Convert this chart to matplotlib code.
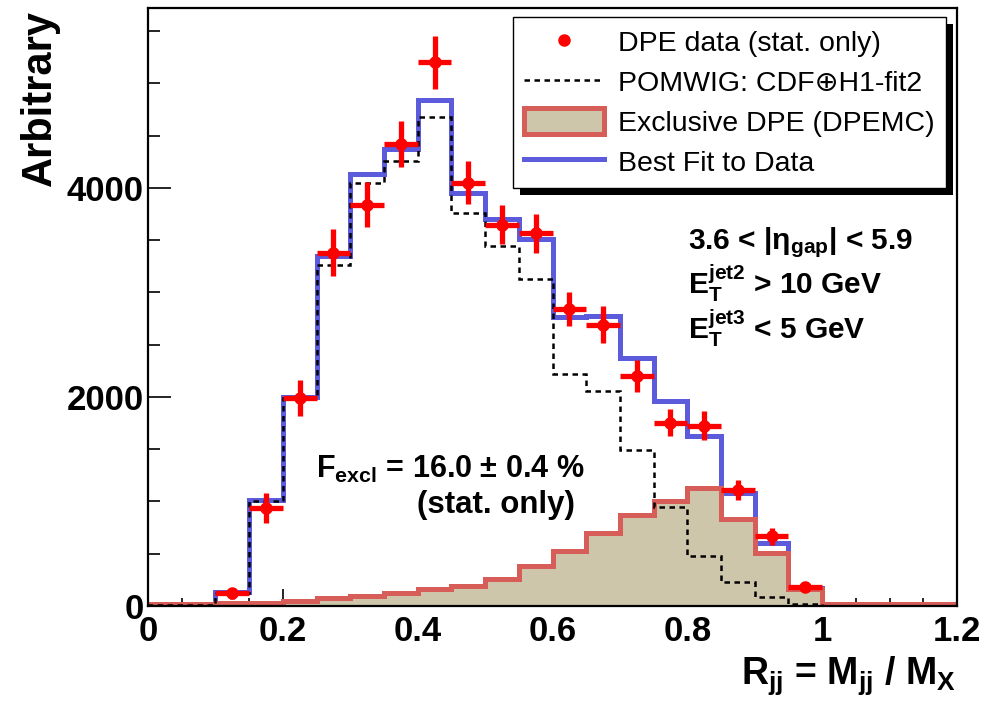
import numpy as np
import matplotlib
matplotlib.use("Agg")
import matplotlib.pyplot as plt
from matplotlib.lines import Line2D
from matplotlib.patches import Patch, Rectangle
from matplotlib.transforms import IdentityTransform
from matplotlib.ticker import FixedLocator, MultipleLocator

plt.rcParams['font.family'] = ['Liberation Sans', 'DejaVu Sans']
plt.rcParams['font.weight'] = 'bold'
plt.rcParams['mathtext.fontset'] = 'custom'
plt.rcParams['mathtext.rm'] = 'Liberation Sans:bold'
plt.rcParams['mathtext.it'] = 'Liberation Sans:bold'
plt.rcParams['mathtext.bf'] = 'Liberation Sans:bold'
plt.rcParams['mathtext.default'] = 'rm'

# --- data (24 bins of width 0.05 in R_jj) ---
bin_edges = np.round(np.arange(0, 1.2001, 0.05), 2)

best_fit = [20, 20, 130, 1010, 2000, 3350, 4130, 4370, 4840, 3955, 3705, 3510,
            2760, 2770, 2375, 1965, 1625, 1080, 605, 170, 20, 20, 20, 20]
pomwig = [5, 5, 120, 1000, 1990, 3265, 4050, 4260, 4675, 3760, 3445, 3130,
          2215, 2055, 1490, 950, 480, 230, 90, 20, 0, 0, 0, 0]
excl_dpe = [15, 15, 30, 30, 45, 75, 95, 120, 165, 195, 260, 380,
            525, 695, 870, 1000, 1130, 830, 505, 160, 20, 20, 20, 20]

data_x = [0.125, 0.175, 0.225, 0.275, 0.325, 0.375, 0.425, 0.475, 0.525,
          0.575, 0.625, 0.675, 0.725, 0.775, 0.825, 0.875, 0.925, 0.975]
data_y = [121, 940, 1990, 3380, 3840, 4420, 5200, 4050, 3645,
          3565, 2840, 2690, 2200, 1755, 1725, 1110, 665, 185]
data_err = [55, 145, 175, 222, 215, 223, 255, 207, 187,
            188, 163, 178, 150, 128, 139, 99, 80, 40]

legend_labels = ["DPE data (stat. only)", "POMWIG: CDF\u2295H1-fit2",
                 "Exclusive DPE (DPEMC)", "Best Fit to Data"]
xtick_vals = [0, 0.2, 0.4, 0.6, 0.8, 1.0, 1.2]
xtick_labels = ["0", "0.2", "0.4", "0.6", "0.8", "1", "1.2"]
ytick_vals = [0, 2000, 4000]

fit_color = "#5b5bdc"
excl_color = "#d65d58"
fill_color = "#cdc6aa"

fig = plt.figure(figsize=(9.94, 7.09), dpi=100)
ax = fig.add_axes([148/994, 1 - 606/709, 809/994, 598/709])

ax.stairs(best_fit, bin_edges, color=fit_color, lw=3.6, zorder=2)
ax.stairs(excl_dpe, bin_edges, fill=True, color=fill_color, zorder=2.1)
ax.stairs(excl_dpe, bin_edges, color=excl_color, lw=3.6, zorder=2.2)
ax.stairs(pomwig, bin_edges, color='black', lw=1.8, ls=(0, (2.2, 1.8)), zorder=2.3)
ax.errorbar(data_x, data_y, xerr=0.025, yerr=data_err, fmt='o', ms=8,
            color='red', ecolor='red', elinewidth=3.8, capsize=0, zorder=5)

ax.set_xlim(0, 1.2)
ax.set_ylim(0, 5720)
ax.xaxis.set_major_locator(FixedLocator(xtick_vals))
ax.set_xticklabels(xtick_labels)
ax.xaxis.set_minor_locator(MultipleLocator(0.05))
ax.yaxis.set_major_locator(FixedLocator(ytick_vals))
ax.yaxis.set_minor_locator(MultipleLocator(500))

for s in ax.spines.values():
    s.set_linewidth(1.6)
    s.set_zorder(6)
ax.tick_params(axis='both', which='both', direction='in', top=False, right=False,
               width=1.2, labelsize=25)
ax.tick_params(axis='y', which='major', length=16.5, pad=3)
ax.tick_params(axis='y', which='minor', length=8.5)
ax.tick_params(axis='x', which='major', length=12.5, pad=6.5)
ax.tick_params(axis='x', which='minor', length=6)

# axis titles
fig.text(40/994, 1 - 10/709, "Arbitrary", rotation=90, ha='center', va='top',
         fontsize=30)
fig.text(956/994, 1 - 684/709, r"R$_{\mathrm{jj}}$ = M$_{\mathrm{jj}}$ / M$_{\mathrm{X}}$",
         ha='right', va='baseline', fontsize=27)

# annotations
ax.text(0.6675, 0.597, r"3.6 < |$\eta_{\mathrm{gap}}$| < 5.9", transform=ax.transAxes,
        fontsize=21.5, va='baseline')
ax.text(0.6675, 0.522, r"$\mathrm{E}_{\mathrm{T}}^{\mathrm{jet2}}$ > 10 GeV",
        transform=ax.transAxes, fontsize=21.5, va='baseline')
ax.text(0.6675, 0.4465, r"$\mathrm{E}_{\mathrm{T}}^{\mathrm{jet3}}$ < 5 GeV",
        transform=ax.transAxes, fontsize=21.5, va='baseline')
ax.text(0.2077, 0.214, "F$_{\\mathrm{excl}}$ = 16.0 \u00b1 0.4 %", transform=ax.transAxes,
        fontsize=22, va='baseline')
ax.text(0.528, 0.1555, "(stat. only)", transform=ax.transAxes, fontsize=22.5,
        va='baseline', ha='right')

# legend with ROOT-like drop shadow
handles = [
    Line2D([], [], ls='none', marker='o', ms=8, color='red'),
    Line2D([], [], color='black', lw=1.8, ls=(0, (2.2, 1.8))),
    Patch(facecolor=fill_color, edgecolor=excl_color, lw=3.6),
    Line2D([], [], color=fit_color, lw=3.6),
]
leg = ax.legend(handles, legend_labels, loc='upper right',
                bbox_to_anchor=(946/994, 1 - 17/709), bbox_transform=fig.transFigure,
                borderaxespad=0, frameon=True, fancybox=False, edgecolor='black',
                framealpha=1, prop={'size': 20.5, 'weight': 'normal'},
                handlelength=2.8, handleheight=1.0, handletextpad=0.5,
                labelspacing=0.4, borderpad=0.4)
leg.get_frame().set_linewidth(1.0)
leg.set_zorder(10)

fig.canvas.draw()
bb = leg.get_window_extent()
shadow = Rectangle((bb.x0 + 7, bb.y0 - 7), bb.width, bb.height,
                   transform=IdentityTransform(), facecolor='black',
                   edgecolor='none', zorder=9, clip_on=False)
ax.add_patch(shadow)

fig.savefig("out.png", dpi=100)
